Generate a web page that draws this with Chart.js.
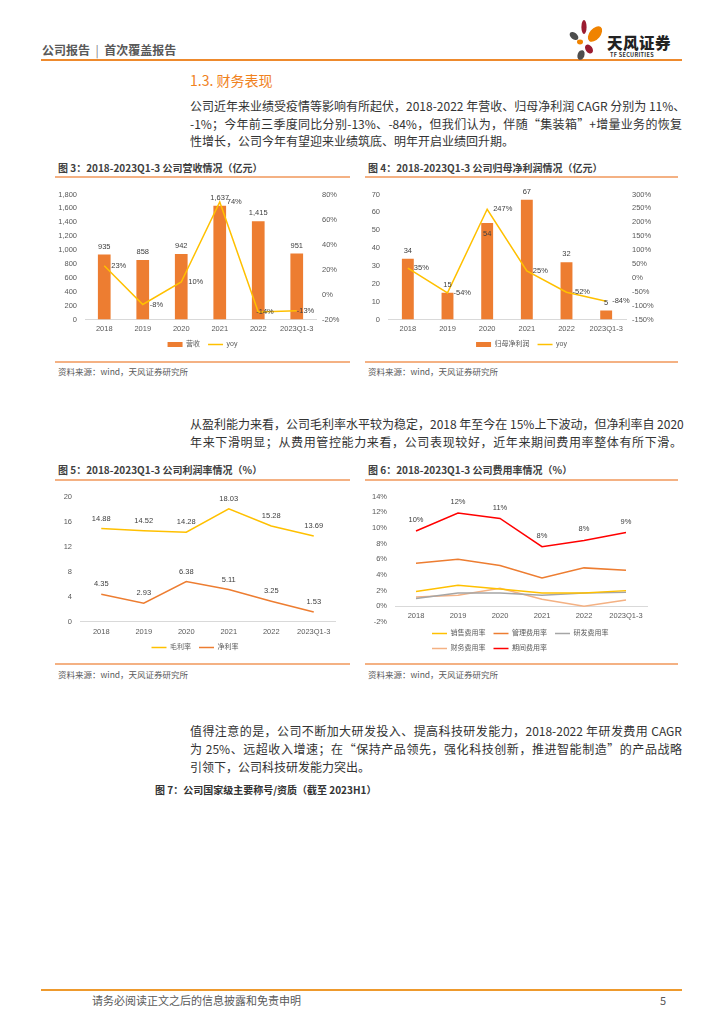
<!DOCTYPE html>
<html>
<head>
<meta charset="utf-8">
<script src="https://cdn.jsdelivr.net/npm/chart.js@4.4.0/dist/chart.umd.min.js"></script>
<style>
  body{margin:0;width:724px;height:1024px;position:relative;background:#fff;overflow:hidden;
    font-family:"Noto Sans CJK SC","Noto Sans",sans-serif;color:#333}
  .a{position:absolute;white-space:nowrap}
  .line{position:absolute;left:190px;width:492px;font-size:12px;line-height:18px;height:18px;white-space:nowrap}
  .just{text-align:justify;text-align-last:justify}
  .title{position:absolute;font-size:10px;font-weight:bold;color:#404040;line-height:12px}
  .rule{position:absolute;height:1.5px;background:#F4B183}
  .src{position:absolute;font-size:8.5px;color:#595959;line-height:10px}
  canvas{position:absolute}
</style>
</head>
<body>

<!-- header -->
<div class="a" style="left:42px;top:42px;font-size:12px;font-weight:bold;color:#595959;line-height:16px">公司报告 &nbsp;<span style="font-weight:normal;color:#7f7f7f">|</span>&nbsp; 首次覆盖报告</div>
<div class="a" style="left:41px;top:59px;width:641px;height:2px;background:#EE8A2D"></div>
<svg class="a" style="left:564px;top:16px" width="44" height="46" viewBox="0 0 44 46">
  <ellipse cx="20" cy="11" rx="2.6" ry="7" fill="#9B1C31"/>
  <ellipse cx="31" cy="18" rx="5.5" ry="9" transform="rotate(40 31 18)" fill="#F08300"/>
  <ellipse cx="10" cy="20" rx="3.2" ry="5" transform="rotate(-50 10 20)" fill="#4d4d4d"/>
  <ellipse cx="16" cy="26" rx="3" ry="2.4" fill="#F08300"/>
  <ellipse cx="25" cy="33" rx="3.4" ry="5" transform="rotate(-35 25 33)" fill="#9B1C31"/>
  <ellipse cx="17" cy="39" rx="3.4" ry="5" transform="rotate(20 17 39)" fill="#4d4d4d"/>
</svg>
<div class="a" style="left:607px;top:33px;font-size:15.5px;font-weight:900;color:#222;line-height:18px;letter-spacing:0.5px">天风证券</div>
<div class="a" style="left:610px;top:52px;font-size:5.5px;font-weight:bold;color:#333;line-height:7px;letter-spacing:0.3px">TF SECURITIES</div>

<!-- section -->
<div class="a" style="left:190px;top:71px;font-size:14px;color:#F0821E;line-height:18px">1.3. 财务表现</div>
<div class="line just" style="top:97px">公司近年来业绩受疫情等影响有所起伏，2018-2022 年营收、归母净利润 CAGR 分别为 11%、</div>
<div class="line just" style="top:115px">-1%；今年前三季度同比分别-13%、-84%，但我们认为，伴随“集装箱”+增量业务的恢复</div>
<div class="line" style="top:132px">性增长，公司今年有望迎来业绩筑底、明年开启业绩回升期。</div>

<!-- figure 3 / 4 -->
<div class="title" style="left:58px;top:162px">图 3：2018-2023Q1-3 公司营收情况（亿元）</div>
<div class="rule" style="left:55px;top:176px;width:295px"></div>
<canvas id="c3" width="295" height="176" style="left:55px;top:182px"></canvas>
<div class="rule" style="left:55px;top:361px;width:295px"></div>
<div class="src" style="left:58px;top:366px">资料来源：wind，天风证券研究所</div>

<div class="title" style="left:368px;top:162px">图 4：2018-2023Q1-3 公司归母净利润情况（亿元）</div>
<div class="rule" style="left:365px;top:176px;width:313px"></div>
<canvas id="c4" width="313" height="176" style="left:365px;top:182px"></canvas>
<div class="rule" style="left:365px;top:361px;width:313px"></div>
<div class="src" style="left:368px;top:366px">资料来源：wind，天风证券研究所</div>

<div class="line just" style="top:415px">从盈利能力来看，公司毛利率水平较为稳定，2018 年至今在 15%上下波动，但净利率自 2020</div>
<div class="line just" style="top:433px">年来下滑明显；从费用管控能力来看，公司表现较好，近年来期间费用率整体有所下滑。</div>

<!-- figure 5 / 6 -->
<div class="title" style="left:58px;top:464px">图 5：2018-2023Q1-3 公司利润率情况（%）</div>
<div class="rule" style="left:55px;top:479px;width:295px"></div>
<canvas id="c5" width="295" height="177" style="left:55px;top:484px"></canvas>
<div class="rule" style="left:55px;top:663px;width:295px"></div>
<div class="src" style="left:58px;top:669px">资料来源：wind，天风证券研究所</div>

<div class="title" style="left:368px;top:464px">图 6：2018-2023Q1-3 公司费用率情况（%）</div>
<div class="rule" style="left:365px;top:479px;width:313px"></div>
<canvas id="c6" width="313" height="178" style="left:365px;top:484px"></canvas>
<div class="rule" style="left:365px;top:663px;width:313px"></div>
<div class="src" style="left:368px;top:669px">资料来源：wind，天风证券研究所</div>

<div class="line just" style="top:722px">值得注意的是，公司不断加大研发投入、提高科技研发能力，2018-2022 年研发费用 CAGR</div>
<div class="line just" style="top:740px">为 25%、远超收入增速；在“保持产品领先，强化科技创新，推进智能制造”的产品战略</div>
<div class="line" style="top:758px">引领下，公司科技研发能力突出。</div>
<div class="title" style="left:155px;top:784px;color:#333">图 7：公司国家级主要称号/资质（截至 2023H1）</div>

<!-- footer -->
<div class="a" style="left:41px;top:989px;width:641px;height:2px;background:#EE9A2D"></div>
<div class="a" style="left:92px;top:993px;font-size:11px;color:#595959;line-height:14px">请务必阅读正文之后的信息披露和免责申明</div>
<div class="a" style="left:660px;top:993px;font-size:11px;color:#595959;line-height:14px">5</div>

<script>
// categories
const years = ['2018', '2019', '2020', '2021', '2022', '2023Q1-3']

// 图3 营收（亿元）/ yoy %
const revenue = [935, 858, 942, 1637, 1415, 951]
const revenueYoy = [23, -8, 10, 74, -14, -13]

// 图4 归母净利润（亿元）/ yoy %
const netProfit = [34, 15, 54, 67, 32, 5]
const netProfitYoy = [35, -54, 247, 25, -52, -84]

// 图5 利润率 %
const grossMargin = [14.88, 14.52, 14.28, 18.03, 15.28, 13.69]
const netMargin = [4.35, 2.93, 6.38, 5.11, 3.25, 1.53]

// 图6 费用率 %
const sellingRate = [1.9, 2.7, 2.2, 1.7, 1.7, 2.0]
const adminRate = [5.5, 6.0, 5.2, 3.6, 4.9, 4.6]
const rdRate = [1.0, 1.7, 1.7, 1.4, 1.7, 1.8]
const financeRate = [1.2, 1.4, 2.3, 0.9, 0.0, 0.8]
const periodRate = [9.6, 11.9, 11.2, 7.6, 8.4, 9.4]

Chart.defaults.font.family = '"Liberation Sans", Arial, "Noto Sans CJK SC", sans-serif'
Chart.defaults.font.size = 7.5
Chart.defaults.color = '#595959'
Chart.defaults.animation = false
Chart.defaults.responsive = false
Chart.defaults.plugins.tooltip.enabled = false

const ORANGE = '#ED7D31', GOLD = '#FFC000'
const pct = v => v + '%'
const comma = v => Number(v).toLocaleString('en-US')

// draws data labels next to each point / bar, reads positions from the element
const valueLabels = {
  id: 'valueLabels',
  afterDatasetsDraw(chart) {
    const ctx = chart.ctx
    chart.data.datasets.forEach((ds, i) => {
      const lab = ds.valueLabel
      if (!lab) return
      const meta = chart.getDatasetMeta(i)
      ctx.save()
      ctx.font = '7.5px "Liberation Sans", Arial, sans-serif'
      ctx.fillStyle = '#404040'
      ctx.textBaseline = 'middle'
      ctx.textAlign = lab.align || 'center'
      meta.data.forEach((el, j) => {
        const nx = (lab.nudgeX && lab.nudgeX[j]) || 0
        const ny = (lab.nudgeY && lab.nudgeY[j]) || 0
        ctx.fillText(lab.format(ds.data[j]), el.x + (lab.dx || 0) + nx, el.y + (lab.dy || 0) + ny)
      })
      ctx.restore()
    })
  }
}

function yAxis(pos, min, max, step, width, fmt) {
  const ticks = { stepSize: step, padding: pos === 'left' ? 8 : 6 }
  if (fmt) ticks.callback = fmt
  return {
    position: pos, min, max, ticks,
    grid: { display: false, drawTicks: false },
    border: { display: false },
    afterFit: s => { s.width = width }
  }
}

function xAxis(height, padding, extra) {
  return Object.assign({
    offset: true,
    grid: { display: false, drawTicks: false },
    border: { display: true, color: '#D9D9D9', width: 1 },
    ticks: { padding, maxRotation: 0, autoSkip: false },
    afterFit: s => { s.height = height }
  }, extra || {})
}

// legend keeps dataset order (bar first), not draw order
function legend(extra) {
  return Object.assign({
    position: 'bottom',
    labels: { usePointStyle: true, pointStyleWidth: 15, boxHeight: 5, padding: 8, color: '#595959', font: { size: 7 },
      sort: (a, b) => a.datasetIndex - b.datasetIndex }
  }, extra || {})
}

// 图3
new Chart(document.getElementById('c3'), {
  data: {
    labels: years,
    datasets: [
      { type: 'bar', label: '营收', data: revenue, backgroundColor: ORANGE, yAxisID: 'y', order: 1,
        categoryPercentage: 1, barPercentage: 0.33, pointStyle: 'rect',
        valueLabel: { format: comma, dy: -8 } },
      { type: 'line', label: 'yoy', data: revenueYoy, borderColor: GOLD, borderWidth: 1.5, yAxisID: 'y1', order: 0,
        pointRadius: 0, pointStyle: 'line', tension: 0,
        valueLabel: { format: pct, align: 'left', dx: 7, nudgeX: { 4: -9, 5: -7 } } }
    ]
  },
  options: {
    layout: { padding: { top: 10, bottom: 0, left: 0, right: 0 } },
    scales: {
      x: xAxis(13.5, 5),
      y: yAxis('left', 0, 1800, 200, 30, comma),
      y1: yAxis('right', -20, 80, 20, 34, pct)
    },
    plugins: { legend: legend() }
  },
  plugins: [valueLabels]
})

// 图4
new Chart(document.getElementById('c4'), {
  data: {
    labels: years,
    datasets: [
      { type: 'bar', label: '归母净利润', data: netProfit, backgroundColor: ORANGE, yAxisID: 'y', order: 1,
        categoryPercentage: 1, barPercentage: 0.3, pointStyle: 'rect',
        valueLabel: { format: v => v, dy: -8, nudgeY: { 2: 19 } } },
      { type: 'line', label: 'yoy', data: netProfitYoy, borderColor: GOLD, borderWidth: 1.5, yAxisID: 'y1', order: 0,
        pointRadius: 0, pointStyle: 'line', tension: 0,
        valueLabel: { format: pct, align: 'left', dx: 6 } }
    ]
  },
  options: {
    layout: { padding: { top: 10, bottom: 0, left: 0, right: 0 } },
    scales: {
      x: xAxis(13.5, 5),
      y: yAxis('left', 0, 70, 10, 23),
      y1: yAxis('right', -150, 300, 50, 52, pct)
    },
    plugins: { legend: legend() }
  },
  plugins: [valueLabels]
})

// 图5
new Chart(document.getElementById('c5'), {
  type: 'line',
  data: {
    labels: years,
    datasets: [
      { label: '毛利率', data: grossMargin, borderColor: GOLD, borderWidth: 1.5, pointRadius: 0, pointStyle: 'line',
        valueLabel: { format: v => v.toFixed(2), dy: -10 } },
      { label: '净利率', data: netMargin, borderColor: ORANGE, borderWidth: 1.5, pointRadius: 0, pointStyle: 'line',
        valueLabel: { format: v => v.toFixed(2), dy: -10 } }
    ]
  },
  options: {
    layout: { padding: { top: 10, bottom: 0, left: 0, right: 15 } },
    scales: {
      x: xAxis(14.5, 6),
      y: yAxis('left', 0, 20, 4, 25)
    },
    plugins: { legend: legend() }
  },
  plugins: [valueLabels]
})

// 图6
new Chart(document.getElementById('c6'), {
  type: 'line',
  data: {
    labels: years,
    datasets: [
      { label: '销售费用率', data: sellingRate, borderColor: GOLD, borderWidth: 1.5, pointRadius: 0, pointStyle: 'line' },
      { label: '管理费用率', data: adminRate, borderColor: ORANGE, borderWidth: 1.5, pointRadius: 0, pointStyle: 'line' },
      { label: '研发费用率', data: rdRate, borderColor: '#A5A5A5', borderWidth: 1.5, pointRadius: 0, pointStyle: 'line' },
      { label: '财务费用率', data: financeRate, borderColor: '#F4B183', borderWidth: 1.5, pointRadius: 0, pointStyle: 'line' },
      { label: '期间费用率', data: periodRate, borderColor: '#FF0000', borderWidth: 1.5, pointRadius: 0, pointStyle: 'line',
        valueLabel: { format: v => Math.round(v) + '%', dy: -11 } }
    ]
  },
  options: {
    layout: { padding: { top: 10, bottom: 0, left: 0, right: 31 } },
    scales: {
      x: xAxis(3.5, 5, { position: { y: 0 } }),
      y: yAxis('left', -2, 14, 2, 30, pct)
    },
    plugins: { legend: legend({ align: 'start', fullSize: false }) }
  },
  plugins: [valueLabels, {
    id: 'legendShift',
    afterLayout(chart) { chart.legend.left += 29; chart.legend.right += 29 }
  }]
})
</script>
</body>
</html>
